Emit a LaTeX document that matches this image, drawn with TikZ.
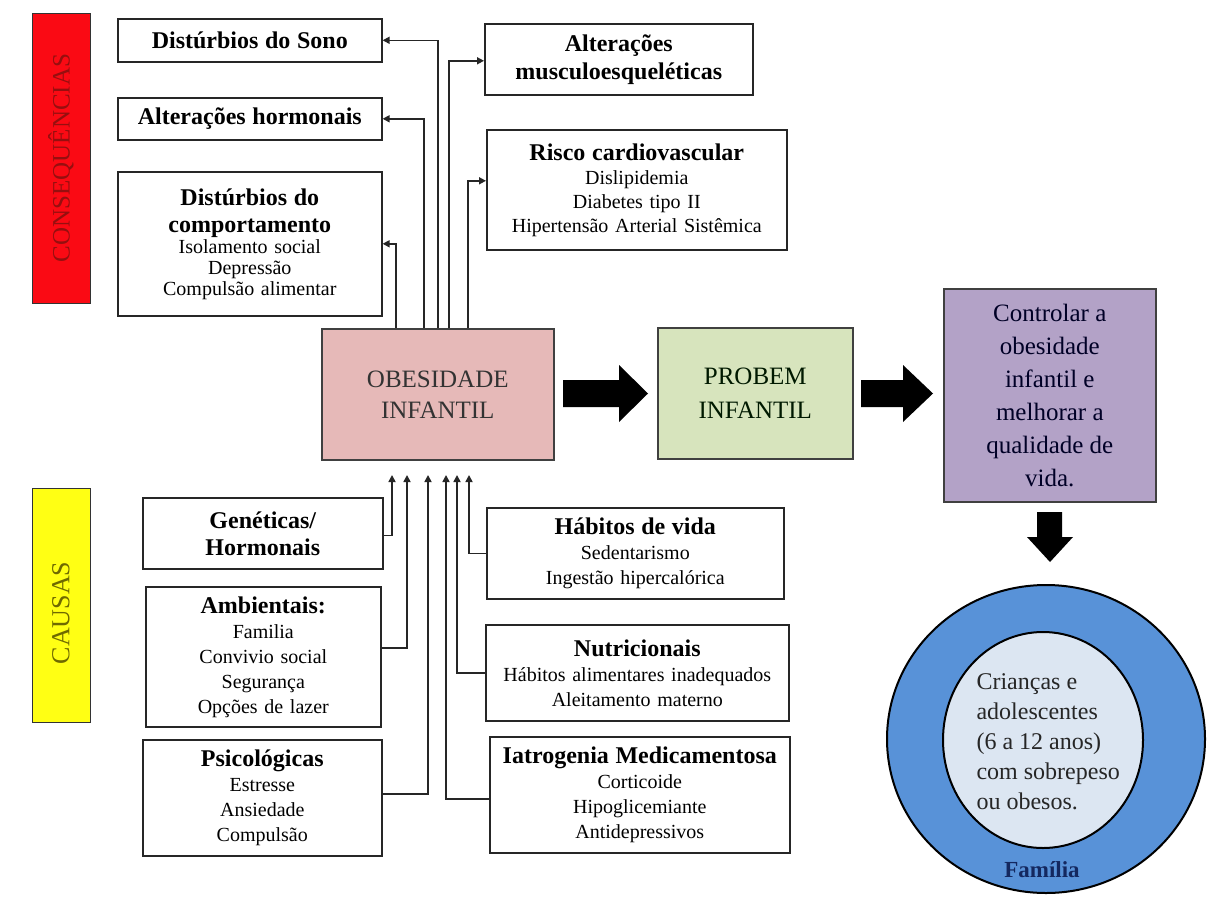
\documentclass[tikz,border=0pt]{standalone}
\usepackage{fontspec}
\setmainfont{Liberation Serif}
\usetikzlibrary{arrows.meta,shapes.geometric}
\definecolor{cred}{RGB}{250,10,20}
\definecolor{credtxt}{RGB}{150,15,15}
\definecolor{cyel}{RGB}{255,255,20}
\definecolor{cyeltxt}{RGB}{110,105,0}
\definecolor{cpink}{RGB}{230,185,184}
\definecolor{cgreen}{RGB}{215,228,189}
\definecolor{cpurple}{RGB}{179,162,199}
\definecolor{couter}{RGB}{88,146,216}
\definecolor{cinner}{RGB}{220,230,242}
\definecolor{cfam}{RGB}{20,40,95}
\newcommand\bhead[2][27]{{\fontsize{24}{#1}\selectfont\bfseries #2\par}}
\begin{document}
\begin{tikzpicture}[x=1pt,y=-1pt,
  box/.style={draw=black!85, line width=1.6pt, fill=white, inner sep=0pt, anchor=north west, align=center, font=\fontsize{20}{24.5}\selectfont},
  bar/.style={draw=black!80, line width=1.4pt, inner sep=0pt, anchor=north west},
  mid/.style={draw=black!75, line width=1.6pt, inner sep=0pt, anchor=north west, align=center, text=black!80},
  conn/.style={draw=black!85, line width=1.6pt, -{Triangle[length=7pt,width=7pt]}},
  bigarrow/.style={fill=black, draw=none}]
\useasboundingbox (0,0) rectangle (1214,902);
\fill[white] (0,0) rectangle (1214,902);

% side bars
\node[bar, fill=cred, minimum width=58pt, minimum height=290pt] (rbar) at (32,13) {};
\node[rotate=90, text=credtxt, font=\fontsize{25}{25}\selectfont] (rtxt) at (61,158) {CONSEQUÊNCIAS};
\node[bar, fill=cyel, minimum width=58pt, minimum height=234pt] (ybar) at (32,488) {};
\node[rotate=90, text=cyeltxt, font=\fontsize{26}{26}\selectfont] (ytxt) at (61,613) {CAUSAS};

% consequence boxes
\node[box, minimum width=264pt, minimum height=43pt, text width=260pt] (sono) at (117,18) {\bhead{Distúrbios do Sono}};
\node[box, minimum width=264pt, minimum height=42pt, text width=260pt] (horm) at (117,97) {\bhead{Alterações hormonais}};
\node[box, minimum width=264pt, minimum height=144pt, text width=260pt, font=\fontsize{20}{21}\selectfont] (comp) at (117,171) {\bhead{Distúrbios do\\comportamento}Isolamento social\\Depressão\\Compulsão alimentar};
\node[box, minimum width=268pt, minimum height=71pt, text width=264pt] (musc) at (484,23) {\bhead[28]{Alterações\\musculoesqueléticas}};
\node[box, minimum width=300pt, minimum height=120pt, text width=296pt, font=\fontsize{20}{24}\selectfont] (risco) at (486,129) {\bhead{Risco cardiovascular}Dislipidemia\\Diabetes tipo II\\Hipertensão Arterial Sistêmica};

% cause boxes
\node[box, minimum width=240pt, minimum height=71pt, text width=236pt] (gen) at (142,497) {\bhead{Genéticas/\\Hormonais}};
\node[box, minimum width=235pt, minimum height=140pt, text width=231pt, font=\fontsize{20}{25}\selectfont] (amb) at (145,586) {\bhead{Ambientais:}Familia\\Convivio social\\Segurança\\Opções de lazer};
\node[box, minimum width=239pt, minimum height=116pt, text width=235pt, font=\fontsize{20}{25}\selectfont] (psi) at (142,739) {\bhead{Psicológicas}Estresse\\Ansiedade\\Compulsão};
\node[box, minimum width=297pt, minimum height=91pt, text width=293pt, font=\fontsize{20}{25}\selectfont] (hab) at (486,507) {\bhead{Hábitos de vida}Sedentarismo\\Ingestão hipercalórica};
\node[box, minimum width=303pt, minimum height=96pt, text width=299pt, font=\fontsize{20}{25}\selectfont] (nut) at (485,624) {\bhead{Nutricionais}Hábitos alimentares inadequados\\Aleitamento materno};
\node[box, minimum width=300pt, minimum height=116pt, text width=296pt, font=\fontsize{20}{25}\selectfont] (iat) at (489,736) {\bhead{Iatrogenia Medicamentosa}Corticoide\\Hipoglicemiante\\Antidepressivos};

% central boxes
\node[mid, fill=cpink, minimum width=232pt, minimum height=131pt, font=\fontsize{25}{31}\selectfont] (obes) at (321,328) {OBESIDADE\\INFANTIL};
\node[mid, fill=cgreen, minimum width=195pt, minimum height=131pt, font=\fontsize{25}{34}\selectfont, text=black!75!green!40!black] (prob) at (657,327) {PROBEM\\INFANTIL};
\node[mid, fill=cpurple, minimum width=212pt, minimum height=213pt, font=\fontsize{25}{33}\selectfont, text=black!85!blue] (ctrl) at (943,288) {Controlar a\\obesidade\\infantil e\\melhorar a\\qualidade de\\vida.};

% circles
\node[ellipse, draw=black, line width=2pt, fill=couter, minimum width=318pt, minimum height=308pt, inner sep=0pt] (fam) at (1046,739) {};
\node[ellipse, draw=black, line width=2pt, fill=cinner, minimum width=200pt, minimum height=216pt, inner sep=0pt] (kids) at (1043,740) {};
\node[anchor=west, align=left, font=\fontsize{24}{30}\selectfont, text=black!85] (kidstxt) at (973,742) {Crianças e\\adolescentes\\(6 a 12 anos)\\com sobrepeso\\ou obesos.};
\node[font=\fontsize{23}{23}\selectfont\bfseries, text=cfam] (famtxt) at (1042,870) {Família};

% big arrows
\fill[bigarrow] (563,380) -- (619,380) -- (619,365) -- (648,393.5) -- (619,422) -- (619,407) -- (563,407) -- cycle;
\fill[bigarrow] (861,380) -- (903,380) -- (903,365) -- (933,393.5) -- (903,422) -- (903,407) -- (861,407) -- cycle;
\fill[bigarrow] (1037,512) -- (1062,512) -- (1062,537) -- (1073,537) -- (1050,562) -- (1027,537) -- (1037,537) -- cycle;

% top connectors
\coordinate (s1) at (396,328);
\coordinate (s2) at (424,328);
\coordinate (s3) at (438,328);
\coordinate (s4) at (449,328);
\coordinate (s5) at (468,328);
\draw[conn] (s1) |- (comp.east);
\draw[conn] (s2) |- (horm.east);
\draw[conn] (s3) |- (sono.east);
\draw[conn] (s4) |- ([yshift=-1.5pt]musc.west);
\draw[conn] (s5) |- ([yshift=9pt]risco.west);

% bottom connectors
\coordinate (t1) at (392,475);
\coordinate (t2) at (407,475);
\coordinate (t3) at (428,475);
\coordinate (t4) at (446,475);
\coordinate (t5) at (457,475);
\coordinate (t6) at (469,475);
\draw[conn] ([yshift=-2pt]gen.east) -| (t1);
\draw[conn] ([yshift=9pt]amb.east) -| (t2);
\draw[conn] ([yshift=4pt]psi.east) -| (t3);
\draw[conn] ([yshift=-4pt]iat.west) -| (t4);
\draw[conn] (nut.west) -| (t5);
\draw[conn] (hab.west) -| (t6);
\end{tikzpicture}
\end{document}
